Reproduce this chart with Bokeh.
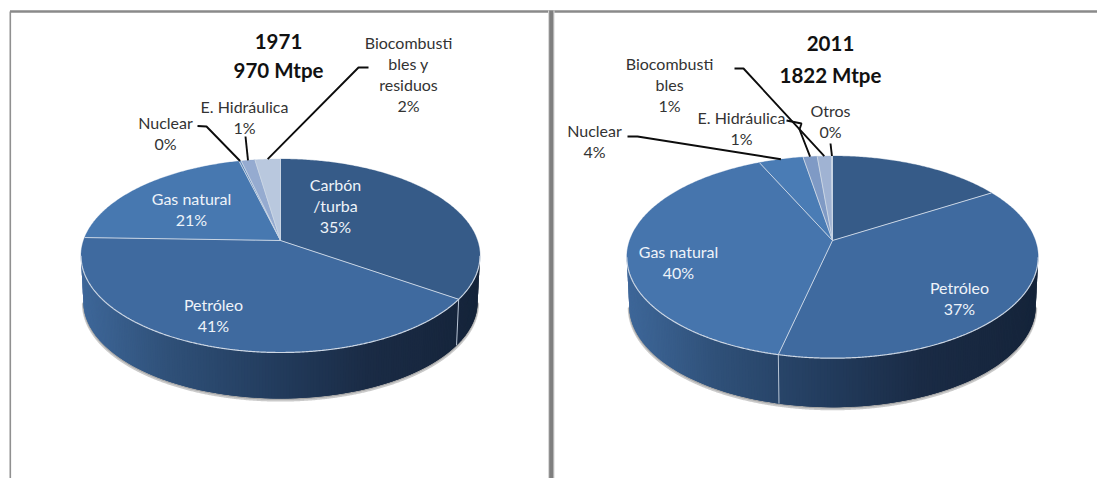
import numpy as np
from bokeh.core.properties import value
from bokeh.embed import file_html
from bokeh.models import Range1d
from bokeh.plotting import figure
from bokeh.resources import INLINE

# Primary energy shares (percent), clockwise from twelve o'clock
sources_1971 = ["Carbón\n/turba", "Petróleo", "Gas natural", "Nuclear", "E. Hidráulica", "Biocombusti\nbles y\nresiduos"]
shares_1971 = [34.6, 40.9, 20.6, 0.2, 1.3, 2.4]
title_1971 = ["1971", "970 Mtpe"]

sources_2011 = ["Carbón", "Petróleo", "Gas natural", "Nuclear", "E. Hidráulica", "Biocombusti\nbles", "Otros"]
shares_2011 = [16.2, 37.4, 39.6, 4.1, 1.3, 1.3, 0.1]
title_2011 = ["2011", "1822 Mtpe"]

FONT = "Lato"
LINE_H = 21.0


def mix(stops, t):
    """Interpolate a colour along (position, hex) stops."""
    pos = [s[0] for s in stops]
    rgb = np.array([[int(s[1][i:i + 2], 16) for i in (1, 3, 5)] for s in stops], float)
    c = [np.interp(t, pos, rgb[:, k]) for k in range(3)]
    return "#%02x%02x%02x" % tuple(int(round(v)) for v in c)


WALL_STOPS = [(0.0, "#3e6799"), (0.22, "#2f5078"), (0.5, "#223b5c"), (0.72, "#1a2b45"), (1.0, "#15243a")]


class Disc:
    """Tilted pie: a unit circle carried to the page by a perspective map."""

    def __init__(self, apex, half_width, up, down, depth):
        self.cx, self.cy = apex
        self.depth = depth
        self.k = (down - up) / (down + up)
        self.d = up * (1 + self.k)
        self.a = half_width * np.sqrt(1 - self.k ** 2)

    def rim(self, pct):
        th = np.asarray(pct, float) * 3.6 * np.pi / 180
        u, v = np.sin(th), np.cos(th)
        w = 1 + self.k * v
        return self.cx + self.a * u / w, self.cy - self.d * v / w


def draw_pie(p, disc, shares, fills, labels, title, leaders):
    edges = np.concatenate([[0], np.cumsum(shares)])
    edges = edges * 100 / edges[-1]

    # The wall: visible between the two widest points of the rim, going through the bottom
    t = np.linspace(0, 100, 1441)
    rx, ry = disc.rim(t)
    first, last = int(np.argmax(rx)), int(np.argmin(rx))
    span = np.arange(first, last + 1)
    xw, yw = rx[span], ry[span]
    x0, x1 = rx.min(), rx.max()
    low_x = disc.cx + (xw - disc.cx) * 0.988

    p.line(low_x, yw + disc.depth + 1.6, line_color="#b4b4b4", line_width=3, line_alpha=0.7)
    p.line(low_x, yw + disc.depth + 0.6, line_color="#8e8e8e", line_width=1.5, line_alpha=0.6)

    # Narrow strips, each overlapping the next so that no seams show between them
    step = 3
    for i in range(0, len(span) - step, step):
        j = min(i + 3 * step, len(span) - 1)
        m = i + step // 2
        t_mid = (xw[m] - x0) / (x1 - x0)
        col = mix(WALL_STOPS, t_mid)
        p.patch([xw[i], xw[j], low_x[j], low_x[i]],
                [yw[i], yw[j], yw[j] + disc.depth, yw[i] + disc.depth],
                fill_color=col, line_color=None)

    # Top face
    for a, b, col in zip(edges[:-1], edges[1:], fills):
        tt = np.linspace(a, b, max(3, int((b - a) * 6)))
        xs, ys = disc.rim(tt)
        p.patch(np.r_[disc.cx, xs], np.r_[disc.cy, ys], fill_color=col, line_color=col, line_width=0.3)

    # Slice separators and the bright lower rim
    for e in edges[:-1]:
        ex, ey = disc.rim([e])
        p.line([disc.cx, ex[0]], [disc.cy, ey[0]], line_color="#c9d5e4", line_width=1.0)
        if first <= e * 14.4 <= last:
            ix = disc.cx + (ex[0] - disc.cx) * 0.988
            p.line([ex[0], ix], [ey[0], ey[0] + disc.depth], line_color="#b9c6d6", line_width=1.0)
    p.line(xw, yw, line_color="#cdd7e4", line_width=1.2)

    # Leader lines: a label-side path that ends on the rim at the middle of its slice
    for idx, path in leaders.items():
        mid = edges[idx] + 0.5 * (edges[idx + 1] - edges[idx])
        ax, ay = disc.rim([mid])
        xs = [q[0] for q in path] + [ax[0]]
        ys = [q[1] for q in path] + [ay[0]]
        p.line(xs, ys, line_color="#0d0d0d", line_width=1.9)

    # Slice labels, name lines first and the share underneath
    for idx, (lx, ly, col) in labels.items():
        rows = source_rows(idx, shares) + [f"{shares[idx]:.0f}%"]
        for n, row in enumerate(rows):
            p.text([lx], [ly + n * LINE_H], text=[row], text_font=value(FONT),
                   text_font_size="16px", text_color=col, text_align="center", text_baseline="middle")

    for (tx, ty), row in zip(title[1], title[0]):
        p.text([tx], [ty], text=[row], text_font=value(FONT), text_font_style="bold",
               text_font_size="20.5px", text_color="#111111", text_align="center", text_baseline="middle")


def source_rows(idx, shares):
    names = sources_1971 if shares is shares_1971 else sources_2011
    return names[idx].split("\n")


p = figure(width=1097, height=478, output_backend="svg", toolbar_location=None,
           x_range=Range1d(0, 1097), y_range=Range1d(478, 0),
           x_axis_location=None, y_axis_location=None,
           min_border=0, outline_line_color=None, background_fill_color="white",
           border_fill_color="white")
p.grid.visible = False

# Sheet frame: top rule, left rule and the wide divider between the two pies
p.line([9.5, 1097], [11, 11], line_color="#8a8a8a", line_width=2.4)
p.line([9.8, 9.8], [11, 478], line_color="#909090", line_width=1.6)
p.line([550.8, 550.8], [10, 478], line_color="#d8d8d8", line_width=6.5)
p.line([550.8, 550.8], [10, 478], line_color="#7f7f7f", line_width=4.2)

INK = "#333333"
PALE = "#eef3f9"

draw_pie(
    p,
    Disc((280, 240), 199.5, 81.5, 112, 46),
    shares_1971,
    ["#365b88", "#3f6a9f", "#4778b0", "#5d88bb", "#95abd0", "#b9c8de"],
    {0: (335, 183.5, PALE), 1: (213, 303.5, PALE), 2: (191, 197.5, PALE),
     3: (165, 121.5, INK), 4: (244, 105.5, INK), 5: (408, 41.5, INK)},
    (title_1971, [(278, 41), (278, 69.5)]),
    {3: [(197, 125.5), (206, 126)], 4: [(245, 136)], 5: [(368, 67), (358, 67)]},
)

draw_pie(
    p,
    Disc((832, 240), 205.7, 84.5, 117.7, 49),
    shares_2011,
    ["#365b88", "#3f6a9f", "#4675ad", "#4a7cb5", "#7f9ac5", "#a0b3d3", "#bcc9df"],
    {1: (959, 286.5, PALE), 2: (678, 250.5, PALE), 3: (594, 130, INK),
     4: (741, 116.5, INK), 5: (669, 62.5, INK), 6: (830, 109.5, INK)},
    (title_2011, [(830, 43), (830, 74)]),
    {3: [(627, 136), (637, 136)], 4: [(786, 120), (801, 123), (799, 129)],
     5: [(734, 68), (743, 68)], 6: [(830, 143)]},
)

open("out.html", "w").write(file_html(p, INLINE))
